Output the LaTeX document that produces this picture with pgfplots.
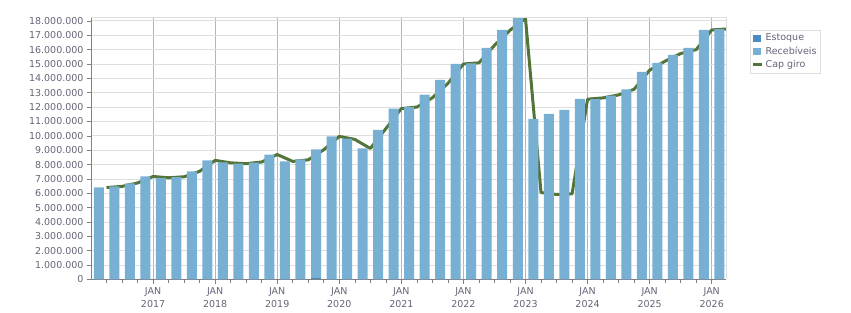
\documentclass[border=0pt]{standalone}
\usepackage{fontspec}
\setmainfont{DejaVu Sans}
\usepackage{pgfplots}
\pgfplotsset{compat=1.18}
\usepackage{pgfplotstable}

\definecolor{estoque}{RGB}{74,140,192}
\definecolor{receb}{RGB}{120,176,212}
\definecolor{capgiro}{RGB}{82,116,56}
\definecolor{txt}{RGB}{100,100,120}
\definecolor{gridy}{RGB}{222,222,222}
\definecolor{gridx}{RGB}{180,180,180}
\definecolor{axisc}{RGB}{128,128,128}

% Quarterly balances (bars centred mid-quarter)
\pgfplotstableread{
x    est     rec
0.5  0       6420000
1.5  0       6480000
2.5  0       6690000
3.5  0       7170000
4.5  0       7080000
5.5  0       7130000
6.5  0       7520000
7.5  0       8290000
8.5  0       8150000
9.5  0       8060000
10.5 0       8130000
11.5 0       8700000
12.5 0       8220000
13.5 0       8360000
14.5 120000  8930000
15.5 0       9960000
16.5 0       9800000
17.5 0       9120000
18.5 0       10410000
19.5 0       11900000
20.5 0       12010000
21.5 0       12870000
22.5 0       13890000
23.5 0       15000000
24.5 0       15050000
25.5 0       16120000
26.5 0       17370000
27.5 0       18300000
28.5 0       11180000
29.5 0       11530000
30.5 0       11800000
31.5 0       12570000
32.5 0       12550000
33.5 0       12800000
34.5 0       13240000
35.5 0       14450000
36.5 0       15080000
37.5 0       15630000
38.5 0       16120000
39.5 0       17370000
40.5 0       17420000
}\bars

% Working capital at quarter end
\pgfplotstableread{
x  v
1  6400000
2  6480000
3  6720000
4  7170000
5  7080000
6  7150000
7  7530000
8  8290000
9  8120000
10 8060000
11 8180000
12 8700000
13 8220000
14 8330000
15 9030000
16 9960000
17 9750000
18 9120000
19 10500000
20 11900000
21 12000000
22 12650000
23 13650000
24 15000000
25 15080000
26 16300000
27 17350000
28 18150000
29 6050000
30 5920000
31 5960000
32 12550000
33 12640000
34 12850000
35 13240000
36 14570000
37 15200000
38 15730000
39 16000000
40 17370000
41 17440000
}\capgiro

\begin{document}
\begin{tikzpicture}
\begin{axis}[
  name=ax, at={(0,0)}, anchor=south west,
  scale only axis, width=635pt, height=262.2pt,
  xmin=0, xmax=40.92, ymin=0, ymax=18250000,
  ybar stacked, bar width=10pt,
  axis x line*=bottom, axis y line*=left,
  axis line style={axisc, line width=0.8pt},
  tick align=outside,
  major tick length=4pt, minor tick length=3pt,
  every tick/.style={axisc, line width=0.6pt},
  font=\fontsize{9.5}{12.5}\selectfont,
  tick label style={text=txt},
  /pgf/number format/assume math mode=true,
  scaled y ticks=false,
  ytick={0,1000000,...,18000000},
  yticklabel style={/pgf/number format/.cd, fixed, precision=0, 1000 sep={.}},
  xtick={4,8,...,40},
  xticklabels={JAN\\2017,JAN\\2018,JAN\\2019,JAN\\2020,JAN\\2021,JAN\\2022,JAN\\2023,JAN\\2024,JAN\\2025,JAN\\2026},
  xticklabel style={align=center, yshift=-1pt},
  minor xtick={1,2,3,5,6,7,9,10,11,13,14,15,17,18,19,21,22,23,25,26,27,29,30,31,33,34,35,37,38,39},
  xmajorgrids, ymajorgrids,
  x grid style={gridx, line width=0.8pt},
  y grid style={gridy, line width=0.8pt},
  legend style={at={(1,1)}, anchor=north west, xshift=23.7pt, yshift=-12.7pt,
    draw=gridy, fill=white, text=txt, font=\fontsize{9.5}{11}\selectfont,
    inner sep=1.8pt, row sep=0.5pt},
  legend cell align=left,
  after end axis/.code={\draw[gridy, line width=0.8pt] (rel axis cs:0,1) -- (rel axis cs:1,1) -- (rel axis cs:1,0);},
]
\addplot[fill=estoque, draw=none,
  legend image code/.code={\fill[estoque] (0pt,-3.7pt) rectangle (7.5pt,3.7pt);}]
  table[x=x, y=est]{\bars};
\addlegendentry{Estoque}
\addplot[fill=receb, draw=none,
  legend image code/.code={\fill[receb] (0pt,-3.7pt) rectangle (7.5pt,3.7pt);}]
  table[x=x, y=rec]{\bars};
\addlegendentry{Recebíveis}
\addplot[capgiro, line width=3pt, sharp plot, line join=round, stack plots=false, mark=none,
  legend image code/.code={\draw[capgiro, line width=3pt] (0pt,0pt) -- (9pt,0pt);}]
  table[x=x, y=v]{\capgiro};
\addlegendentry{Cap giro}
\end{axis}
\pgfresetboundingbox
\path[use as bounding box] (-91pt,-33.5pt) rectangle (760pt,279.5pt);
\end{tikzpicture}
\end{document}
